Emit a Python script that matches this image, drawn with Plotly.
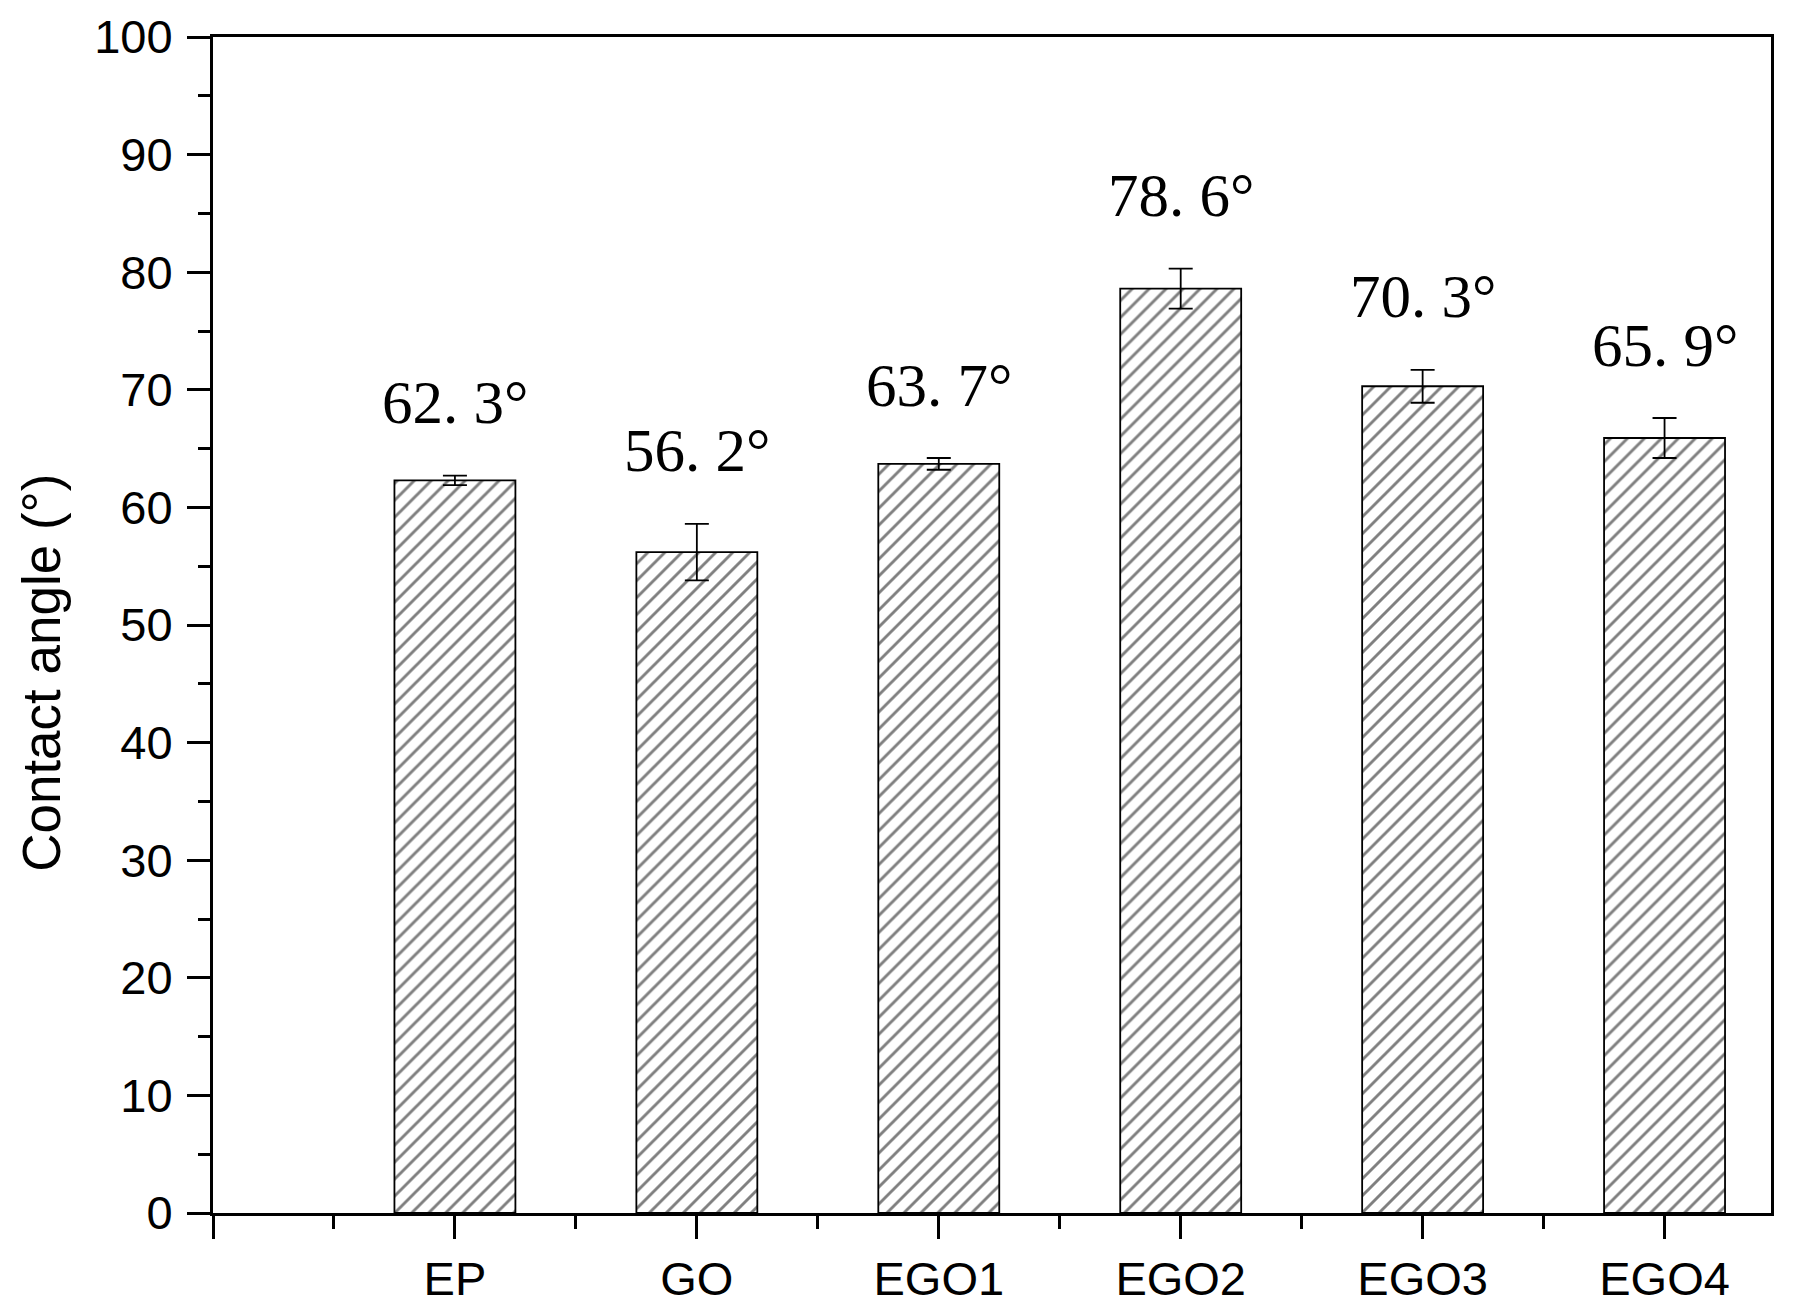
import plotly.graph_objects as go

# data
samples = ["EP", "GO", "EGO1", "EGO2", "EGO3", "EGO4"]
angles = [62.3, 56.2, 63.7, 78.6, 70.3, 65.9]
errors = [0.4, 2.4, 0.5, 1.7, 1.4, 1.7]
label_text = ["62. 3°", "56. 2°", "63. 7°", "78. 6°", "70. 3°", "65. 9°"]

xpos = list(range(1, len(samples) + 1))

fig = go.Figure()
fig.add_trace(go.Bar(
    x=xpos, y=angles, width=0.5,
    marker=dict(color="white",
                line=dict(color="black", width=1.8),
                pattern=dict(shape="/", fgcolor="black", bgcolor="white",
                             size=12, solidity=0.24)),
    error_y=dict(type="data", array=errors, visible=True,
                 color="black", thickness=1.8, width=12),
    showlegend=False,
))

# value labels sit a bit above each error bar
for x, v, e, t in zip(xpos, angles, errors, label_text):
    fig.add_annotation(x=x, y=v + e + 6.2, text=t, showarrow=False,
                       font=dict(family="Liberation Serif", size=61, color="black"))

# y title as an annotation: in the original it sits below the axis middle
fig.add_annotation(xref="paper", yref="paper", x=-0.11, y=0.459,
                   text="Contact angle (°)", textangle=-90, showarrow=False,
                   xanchor="center", yanchor="middle",
                   font=dict(family="Liberation Sans", size=53, color="black"))

axis_common = dict(showline=True, linecolor="black", linewidth=3, mirror=True,
                   ticks="outside", tickcolor="black", tickwidth=3, ticklen=23,
                   showgrid=False, zeroline=False, automargin=False,
                   tickfont=dict(family="Liberation Sans", size=47, color="black"))

fig.update_xaxes(range=[0, 6.44], tickmode="array",
                 tickvals=[0] + xpos, ticktext=[""] + samples,
                 minor=dict(tickmode="array", tickvals=[0.5, 1.5, 2.5, 3.5, 4.5, 5.5],
                            ticks="outside", ticklen=13, tickwidth=3, tickcolor="black"),
                 ticklabelstandoff=0,
                 **axis_common)
fig.update_yaxes(range=[0, 100], tickmode="linear", tick0=0, dtick=10,
                 minor=dict(tickmode="linear", tick0=5, dtick=10,
                            ticks="outside", ticklen=12, tickwidth=3, tickcolor="black"),
                 ticklabelstandoff=5,
                 **axis_common)

fig.update_layout(width=1806, height=1305,
                  margin=dict(l=213, r=35, t=37, b=92),
                  plot_bgcolor="white", paper_bgcolor="white")

# drop the default body margin so the figure fills the window exactly
fig.write_html("out.html", config={"displayModeBar": False},
               post_script="document.body.style.margin='0';")
